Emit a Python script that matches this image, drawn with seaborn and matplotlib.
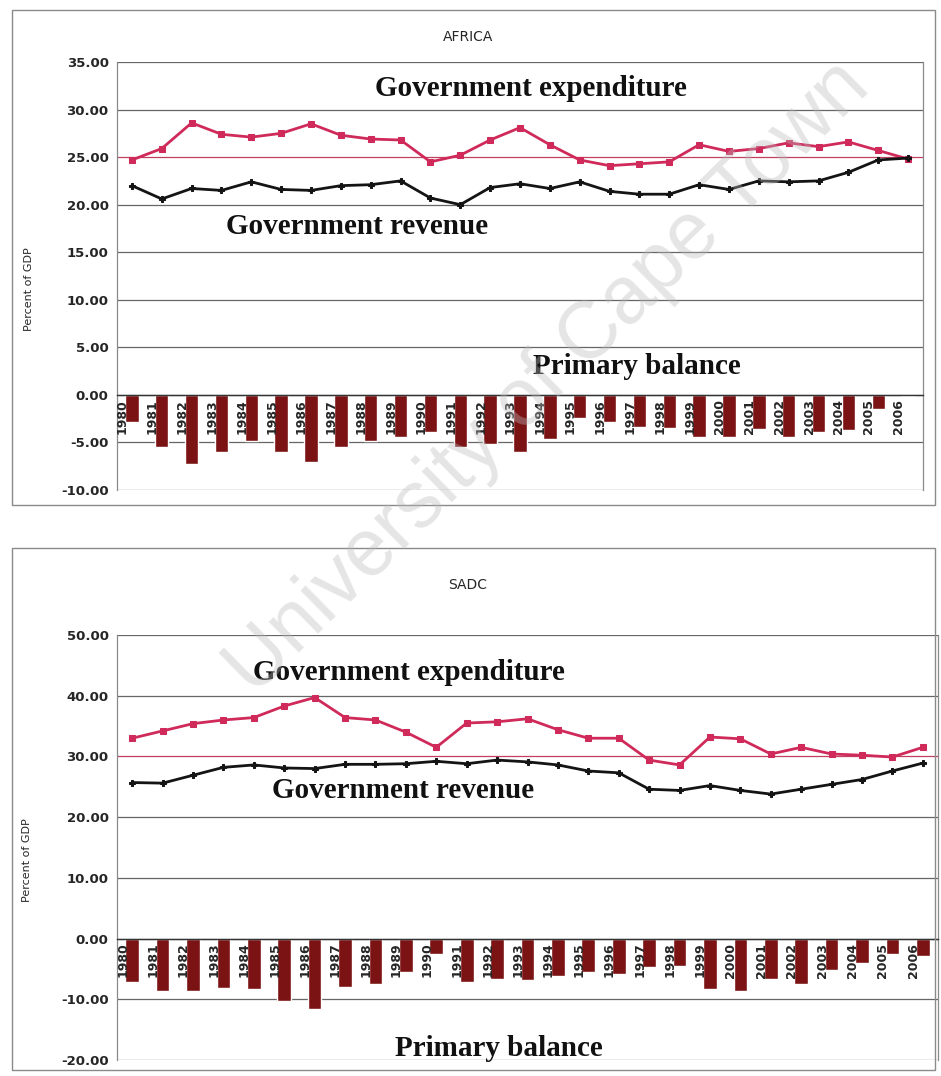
import numpy as np
import pandas as pd
import matplotlib
matplotlib.use("Agg")
import matplotlib.pyplot as plt
import matplotlib.transforms as mtransforms
import seaborn as sns
from matplotlib.patches import Rectangle

years = [str(y) for y in range(1980, 2007)]

africa_expenditure = [24.7, 25.9, 28.6, 27.4, 27.1, 27.5, 28.5, 27.3, 26.9, 26.8, 24.5, 25.2, 26.8, 28.1,
                      26.3, 24.7, 24.1, 24.3, 24.5, 26.3, 25.6, 25.9, 26.5, 26.1, 26.6, 25.7, 24.8]
africa_revenue = [22.0, 20.6, 21.7, 21.5, 22.4, 21.6, 21.5, 22.0, 22.1, 22.5, 20.7, 20.0, 21.8, 22.2,
                  21.7, 22.4, 21.4, 21.1, 21.1, 22.1, 21.6, 22.5, 22.4, 22.5, 23.4, 24.7, 24.9]
africa_primary = [-2.8, -5.5, -7.3, -6.0, -4.8, -6.0, -7.1, -5.5, -4.8, -4.4, -3.9, -5.5, -5.2, -6.0,
                  -4.6, -2.4, -2.8, -3.4, -3.5, -4.4, -4.4, -3.6, -4.4, -3.9, -3.7, -1.5, -0.1]

sadc_expenditure = [33.0, 34.2, 35.4, 36.0, 36.4, 38.3, 39.7, 36.4, 36.0, 34.0, 31.5, 35.5, 35.7, 36.2,
                    34.4, 33.0, 33.0, 29.4, 28.6, 33.2, 32.9, 30.4, 31.5, 30.4, 30.2, 29.9, 31.5]
sadc_revenue = [25.7, 25.6, 26.9, 28.2, 28.6, 28.1, 28.0, 28.7, 28.7, 28.8, 29.2, 28.8, 29.4, 29.1,
                28.6, 27.6, 27.3, 24.6, 24.4, 25.2, 24.4, 23.8, 24.6, 25.4, 26.2, 27.6, 28.9]
sadc_primary = [-7.1, -8.6, -8.6, -8.1, -8.3, -10.2, -11.6, -7.9, -7.4, -5.5, -2.6, -7.1, -6.6, -6.9,
                -6.1, -5.5, -5.8, -4.6, -4.5, -8.3, -8.6, -6.6, -7.4, -5.1, -4.1, -2.6, -2.8]

africa_ticks = [-10, -5, 0, 5, 10, 15, 20, 25, 30, 35]
sadc_ticks = [-20, -10, 0, 10, 20, 30, 40, 50]

sns.set_theme(style="white")
plt.rcParams["font.family"] = ["DejaVu Sans"]
plt.rcParams["axes.unicode_minus"] = False

W, H = 941, 1076
fig = plt.figure(figsize=(W / 100, H / 100), dpi=100)
fig.patch.set_facecolor("white")

EXP_C = "#cf2a5a"
REV_C = "#141414"
BAR_C = "#7b1315"
SERIF = ["Liberation Serif", "DejaVu Serif"]


def fx(px):
    return px / W


def fy(py):
    return 1 - py / H


# outer frames of the two charts
fig.add_artist(Rectangle((fx(12), fy(505)), fx(935) - fx(12), fy(10) - fy(505),
                         transform=fig.transFigure, fill=False, edgecolor="#8a8a8a", lw=1.0))
fig.add_artist(Rectangle((fx(12), fy(1070)), fx(935) - fx(12), fy(548) - fy(1070),
                         transform=fig.transFigure, fill=False, edgecolor="#8a8a8a", lw=1.0))

label_shift = mtransforms.ScaledTranslation(-0.095, 0, fig.dpi_scale_trans)


def panel(rect, exp, rev, prim, ticks, title, title_y, texts, special_grid):
    ax = fig.add_axes(rect)
    df = pd.DataFrame({"year": years, "exp": exp, "rev": rev, "prim": prim,
                       "pos": np.arange(len(years))})
    sns.barplot(data=df, x="year", y="prim", color=BAR_C, width=0.45, errorbar=None,
                saturation=1, ax=ax, zorder=2)
    sns.lineplot(data=df, x="pos", y="exp", color=EXP_C, lw=2.0, marker="s", markersize=5,
                 markeredgecolor=EXP_C, ax=ax, zorder=4)
    sns.lineplot(data=df, x="pos", y="rev", color=REV_C, lw=2.0, marker="P", markersize=4.5,
                 markeredgecolor=REV_C, ax=ax, zorder=4)
    ax.spines["bottom"].set_position(("data", 0))
    ax.spines["bottom"].set_color("#333333")
    ax.spines["bottom"].set_linewidth(1.0)
    ax.spines["top"].set_visible(False)
    ax.spines["left"].set_color("#8a8a8a")
    ax.spines["left"].set_linewidth(0.9)
    ax.spines["right"].set_color("#8a8a8a")
    ax.spines["right"].set_linewidth(0.9)
    ax.set_xlim(-0.5, len(years) - 0.5)
    ax.set_ylim(ticks[0], ticks[-1])
    ax.set_yticks(ticks)
    ax.set_yticklabels([f"{t:.2f}" for t in ticks])
    ax.set_xticks(np.arange(len(years)))
    ax.set_xticklabels(years)
    ax.tick_params(axis="x", length=0, pad=3, labelrotation=90, labelsize=9)
    ax.tick_params(axis="y", length=3, width=0.8, color="#777777", pad=3, direction="out",
                   labelsize=9.5)
    for lab in ax.get_xticklabels() + ax.get_yticklabels():
        lab.set_fontweight("bold")
    for lab in ax.get_xticklabels():
        lab.set_transform(lab.get_transform() + label_shift)
    ax.set_axisbelow(True)
    ax.yaxis.grid(True, color="#666666", lw=0.9)
    ax.xaxis.grid(False)
    ax.xaxis.set_zorder(5)
    for gl, t in zip(ax.get_ygridlines(), ticks):
        if t == special_grid:
            gl.set_color("#c04060")
    ax.set_xlabel("")
    ax.set_ylabel("Percent of GDP", fontsize=8)
    ax.yaxis.set_label_coords(-0.103, 0.47)
    ax.set_facecolor("none")
    fig.text(fx(468), fy(title_y), title, ha="center", va="center", fontsize=10)
    for s, cx, cy in texts:
        fig.text(fx(cx), fy(cy), s, ha="center", va="center", fontsize=21,
                 fontweight="bold", family=SERIF, color="#111111")
    return ax


panel([fx(117), fy(490), (923 - 117) / W, (490 - 62) / H],
      africa_expenditure, africa_revenue, africa_primary, africa_ticks, "AFRICA", 37,
      [("Government expenditure", 531, 88), ("Government revenue", 357, 226),
       ("Primary balance", 637, 367)], 25)

panel([fx(117), fy(1060), (938 - 117) / W, (1060 - 635) / H],
      sadc_expenditure, sadc_revenue, sadc_primary, sadc_ticks, "SADC", 585,
      [("Government expenditure", 409, 673), ("Government revenue", 403, 790),
       ("Primary balance", 499, 1048)], 30)

# faint scan watermark
fig.text(fx(548), fy(378), "University of Cape Town", rotation=44.5, ha="center", va="center",
         fontsize=58, family=["Liberation Sans", "DejaVu Sans"], color="#bbbbbb", alpha=0.38,
         zorder=10)

fig.savefig("out.png", dpi=100, facecolor="white")
